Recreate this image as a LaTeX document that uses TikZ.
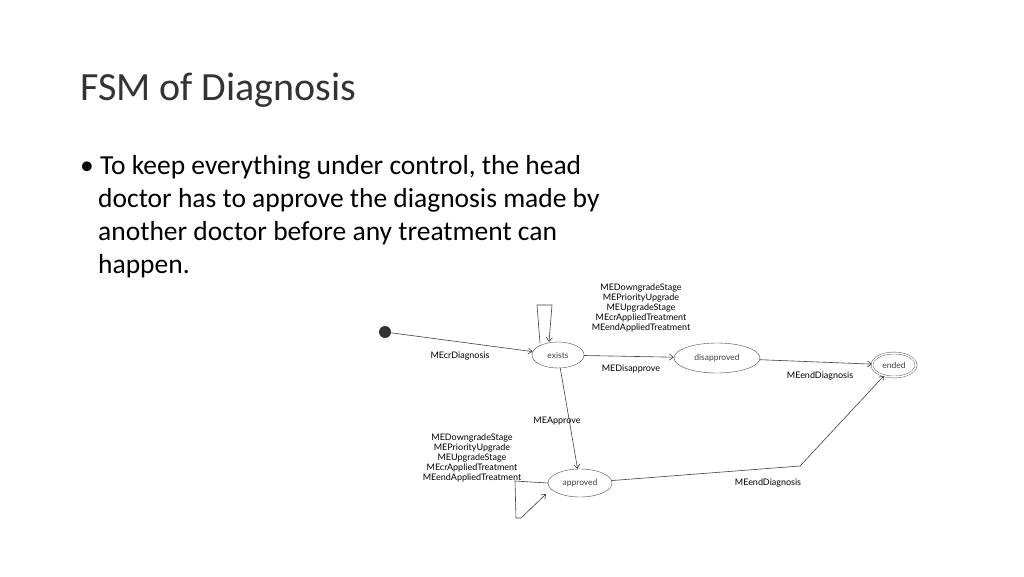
\documentclass[tikz,border=0pt]{standalone}
\usepackage{fontspec}
\setmainfont{Carlito}
\newfontfamily\lbl{Lato}
\usetikzlibrary{shapes.geometric,arrows.meta}
\begin{document}
\begin{tikzpicture}[x=1pt,y=-1pt,
  st/.style={draw=black!70,ellipse,inner sep=0pt,font=\lbl\fontsize{8.5}{9}\selectfont,text=black!75},
  tr/.style={draw=black!75,line width=0.6pt,-{Straight Barb[length=4pt,width=6pt]}},
  lb/.style={font=\lbl\fontsize{9}{10.2}\selectfont,align=center,inner sep=0pt}]
\useasboundingbox[fill=white] (0,0) rectangle (1024,576);
\node[anchor=base west,font=\fontsize{40}{44}\selectfont,text=black!80,inner sep=0pt] (title) at (80,100) {FSM of Diagnosis};
\node[anchor=north west,align=left,font=\fontsize{27.5}{33}\selectfont,inner sep=0pt] (txt) at (80,155)
 {\textbullet\ To keep everything under control, the head\\
 \hspace*{18pt}doctor has to approve the diagnosis made by\\
 \hspace*{18pt}another doctor before any treatment can\\
 \hspace*{18pt}happen.};
\node[circle,fill=black!80,minimum size=12pt,inner sep=0pt] (s) at (385,332) {};
\node[st,minimum width=52pt,minimum height=26pt] (ex) at (558,355) {exists};
\node[st,minimum width=86pt,minimum height=30pt] (dis) at (717,358) {disapproved};
\node[st,double,double distance=1.5pt,minimum width=44pt,minimum height=24pt] (end) at (894,365) {ended};
\node[st,minimum width=64pt,minimum height=28pt] (ap) at (580,483) {approved};
\coordinate (l1) at (540,343); \coordinate (l2) at (537,305);\coordinate (l3) at (552,305);
\draw[tr] (s) -- (ex);
\draw[tr] (l1) -- (l2) -- (l3) -- (549,342);
\draw[tr] (ex) -- (dis);
\draw[tr] (dis) -- (end);
\draw[tr] (ex) -- (ap);
\draw[tr] (ap.west) -- (515,481) -- (516,518) -- (521,518) -- (546,494);
\draw[tr] (ap) -- (800,466) -- (end);
\node[lb] (t1) at (641,308) {MEDowngradeStage\\MEPriorityUpgrade\\MEUpgradeStage\\MEcrAppliedTreatment\\MEendAppliedTreatment};
\node[lb] (t2) at (472,458) {MEDowngradeStage\\MEPriorityUpgrade\\MEUpgradeStage\\MEcrAppliedTreatment\\MEendAppliedTreatment};
\node[lb] (t3) at (460,356) {MEcrDiagnosis};
\node[lb] (t4) at (631,369) {MEDisapprove};
\node[lb] (t5) at (820,376) {MEendDiagnosis};
\node[lb] (t6) at (557,421) {MEApprove};
\node[lb] (t7) at (768,483) {MEendDiagnosis};
\end{tikzpicture}
\end{document}
